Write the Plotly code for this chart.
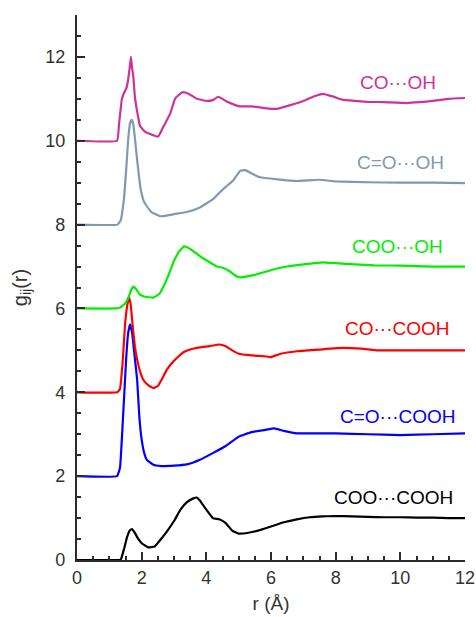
import plotly.graph_objects as go

# ---- data ----
labels = ["COO···COOH", "C=O···COOH", "CO···COOH", "COO···OH", "C=O···OH", "CO···OH"]
colors = ["#000000", "#0000FF", "#FF0000", "#00EE00", "#7F99B3", "#CC3399"]

r_black = [0, 1.3, 1.36, 1.45, 1.55, 1.63, 1.7, 1.78, 1.88, 2.0, 2.2, 2.4, 2.6, 2.8, 3.0, 3.2, 3.4, 3.6, 3.7, 3.8, 4.0,
           4.2, 4.4, 4.6, 4.8, 5.0, 5.3, 5.6, 6.0, 6.4, 6.8, 7.2, 7.6, 8.0, 8.5, 9.0, 9.5, 10, 10.5, 11, 11.5, 12]
g_black = [0, 0, 0.02, 0.25, 0.55, 0.7, 0.74, 0.66, 0.52, 0.4, 0.3, 0.32, 0.5, 0.7, 0.93, 1.2, 1.38, 1.47, 1.49, 1.42, 1.2,
           1.0, 0.97, 0.88, 0.7, 0.63, 0.65, 0.7, 0.8, 0.9, 0.97, 1.02, 1.04, 1.05, 1.04, 1.03, 1.02, 1.02, 1.01, 1.01, 1.0, 1.0]

r_blue = [0, 1.24, 1.33, 1.43, 1.52, 1.58, 1.64, 1.7, 1.77, 1.86, 1.93, 2.0, 2.08, 2.16, 2.36, 2.6, 3.0, 3.4, 3.8, 4.2,
          4.6, 5.0, 5.4, 5.8, 6.1, 6.4, 6.8, 7.2, 8.0, 9.0, 10.0, 11.0, 12.0]
g_blue = [2, 2, 2.2, 3.5, 4.8, 5.4, 5.62, 5.45, 4.95, 4.3, 3.4, 2.87, 2.55, 2.39, 2.27, 2.24, 2.25, 2.28, 2.39, 2.55,
          2.72, 2.94, 3.05, 3.1, 3.14, 3.08, 3.02, 3.02, 3.02, 3.0, 2.98, 3.0, 3.02]

r_red = [0, 1.24, 1.33, 1.41, 1.49, 1.56, 1.61, 1.66, 1.72, 1.79, 1.86, 1.95, 2.05, 2.2, 2.36, 2.5, 2.65, 2.78, 3.0, 3.28,
         3.5, 3.8, 4.1, 4.4, 4.6, 4.8, 5.0, 5.4, 5.8, 6.0, 6.3, 6.8, 7.5, 8.2, 8.8, 9.3, 10.0, 11.0, 12.0]
g_red = [4, 4, 4.08, 4.7, 5.66, 6.1, 6.26, 6.1, 5.6, 5.1, 4.78, 4.5, 4.3, 4.17, 4.1, 4.15, 4.35, 4.54, 4.75, 4.95,
         5.02, 5.07, 5.1, 5.14, 5.1, 5.0, 4.92, 4.88, 4.86, 4.84, 4.92, 4.98, 5.02, 5.06, 5.04, 5.0, 5.0, 5.0, 5.0]

r_green = [0, 1.2, 1.33, 1.49, 1.6, 1.68, 1.74, 1.82, 1.95, 2.1, 2.36, 2.55, 2.78, 2.98, 3.15, 3.31, 3.5, 3.8, 4.0, 4.33,
           4.5, 4.7, 4.9, 5.04, 5.5, 6.07, 6.5, 7.0, 7.6, 8.0, 8.6, 9.2, 10.0, 11.0, 12.0]
g_green = [6, 6, 6.02, 6.12, 6.28, 6.45, 6.52, 6.47, 6.33, 6.28, 6.26, 6.35, 6.7, 7.1, 7.35, 7.48, 7.42, 7.25, 7.15, 7.0,
           6.97, 6.9, 6.78, 6.74, 6.8, 6.93, 7.0, 7.05, 7.1, 7.08, 7.05, 7.03, 7.02, 7.0, 7.0]

r_grey = [0, 1.25, 1.35, 1.45, 1.52, 1.58, 1.64, 1.69, 1.74, 1.8, 1.88, 1.97, 2.07, 2.15, 2.3, 2.57, 2.8, 3.0, 3.4, 3.8,
          4.2, 4.42, 4.6, 4.83, 5.04, 5.2, 5.45, 5.66, 6.2, 6.8, 7.5, 8.0, 9.0, 10.0, 11.0, 12.0]
g_grey = [8, 8, 8.1, 8.6, 9.3, 10.0, 10.42, 10.5, 10.4, 10.0, 9.4, 8.85, 8.55, 8.45, 8.3, 8.2, 8.22, 8.25, 8.3, 8.41,
          8.6, 8.77, 8.9, 9.05, 9.28, 9.3, 9.2, 9.13, 9.08, 9.04, 9.07, 9.03, 9.01, 9.0, 9.0, 8.99]

r_mag = [0, 1.24, 1.3, 1.39, 1.46, 1.52, 1.58, 1.63, 1.67, 1.7, 1.74, 1.79, 1.86, 1.95, 2.1, 2.26, 2.51, 2.66, 2.88,
         3.03, 3.13, 3.28, 3.5, 3.71, 4.02, 4.2, 4.37, 4.6, 4.8, 5.04, 5.4, 5.8, 6.18, 6.6, 7.0, 7.3, 7.6, 7.9, 8.2,
         8.6, 8.97, 9.5, 10.2, 10.6, 11.0, 11.5, 12.0]
g_mag = [10, 10, 10.4, 11.0, 11.15, 11.24, 11.45, 11.75, 12.0, 11.75, 11.55, 11.05, 10.7, 10.35, 10.22, 10.16, 10.1,
         10.32, 10.64, 11.0, 11.08, 11.16, 11.1, 11.0, 10.95, 10.97, 11.05, 10.95, 10.88, 10.82, 10.82, 10.78, 10.76,
         10.85, 10.95, 11.05, 11.12, 11.06, 10.98, 10.95, 10.93, 10.92, 10.9, 10.92, 10.95, 11.0, 11.02]

label_x = [9.8, 9.93, 9.9, 9.9, 10.0, 9.93]
label_y = [1.48, 3.42, 5.52, 7.49, 9.49, 11.4]

rs = [r_black, r_blue, r_red, r_green, r_grey, r_mag]
gs = [g_black, g_blue, g_red, g_green, g_grey, g_mag]

FONT = "Liberation Sans, Arial, Helvetica, sans-serif"
AX = "#2b2b2b"

fig = go.Figure()
for r, g, c, name in zip(rs, gs, colors, labels):
    fig.add_trace(go.Scatter(x=r, y=g, mode="lines", name=name,
                             line=dict(color=c, width=2.2, shape="spline", smoothing=0.3),
                             showlegend=False))

for name, c, lx, ly in zip(labels, colors, label_x, label_y):
    fig.add_annotation(x=lx, y=ly, text=name, showarrow=False,
                       font=dict(family=FONT, size=19, color=c),
                       xanchor="center", yanchor="middle")

fig.update_layout(
    width=476, height=617,
    margin=dict(l=77, r=11, t=15, b=57, autoexpand=False),
    paper_bgcolor="white", plot_bgcolor="white",
    font=dict(family=FONT, size=18, color="#333333"),
)
fig.update_xaxes(
    range=[0, 12], tickmode="linear", tick0=0, dtick=2, automargin=False,
    showgrid=False, zeroline=False,
    showline=True, linecolor=AX, linewidth=2.2,
    ticks="inside", ticklen=8, tickwidth=2, tickcolor=AX,
    minor=dict(dtick=0.5, ticks="inside", ticklen=4, tickwidth=1.5, tickcolor=AX, showgrid=False),
    tickfont=dict(size=18, color="#333333"),
    title=dict(text="r (Å)", font=dict(size=19, color="#333333"), standoff=10),
)
fig.update_yaxes(
    range=[0, 13], tickmode="linear", tick0=0, dtick=2, automargin=False,
    showgrid=False, zeroline=False,
    showline=True, linecolor=AX, linewidth=2.2,
    ticks="inside", ticklen=8, tickwidth=2, tickcolor=AX,
    minor=dict(dtick=0.5, ticks="inside", ticklen=4, tickwidth=1.5, tickcolor=AX, showgrid=False),
    tickfont=dict(size=18, color="#333333"),
    ticklabelstandoff=6,
    title=dict(text="g<sub>ij</sub>(r)", font=dict(size=20, color="#333333"), standoff=12),
)

fig.write_html("out.html")
